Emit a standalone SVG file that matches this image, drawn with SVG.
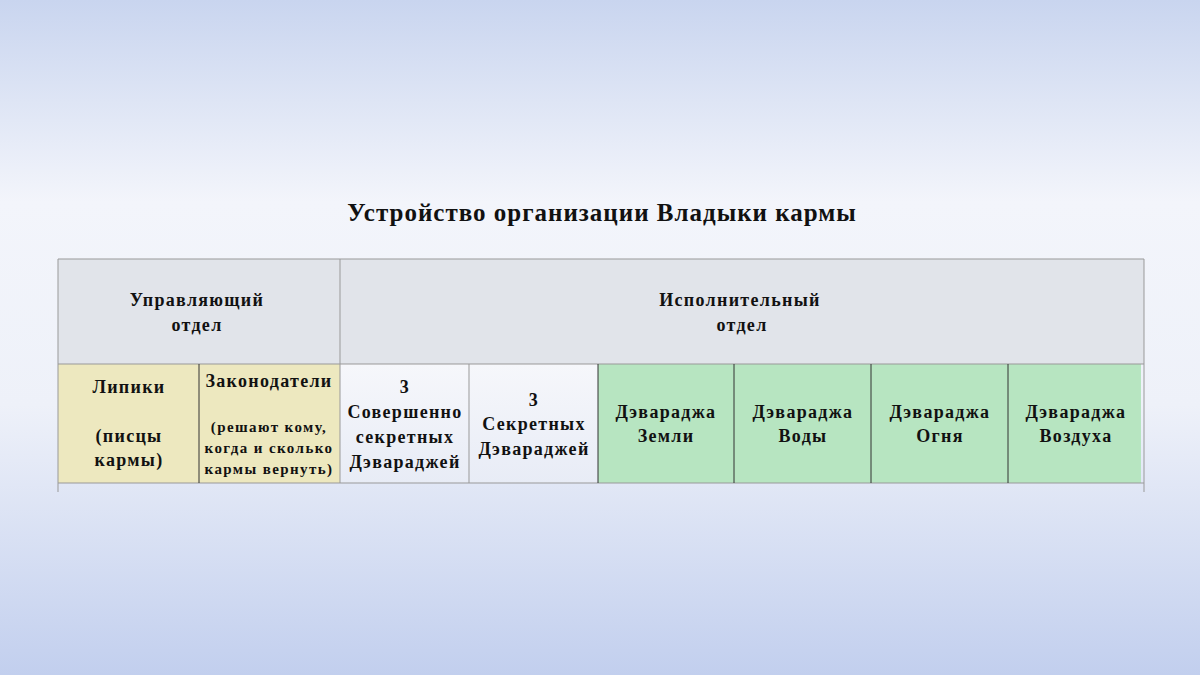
<svg xmlns="http://www.w3.org/2000/svg" width="1200" height="675" viewBox="0 0 1200 675">
<defs>
<linearGradient id="bg" x1="0" y1="0" x2="0" y2="1">
<stop offset="0" stop-color="#c9d5ef"/><stop offset="0.3" stop-color="#f3f5fb"/><stop offset="0.6" stop-color="#eef1f9"/><stop offset="1" stop-color="#c2cfee"/>
</linearGradient>
<linearGradient id="wh" x1="0" y1="0" x2="0" y2="1"><stop offset="0" stop-color="#f6f7fb"/><stop offset="1" stop-color="#e8ecf6"/></linearGradient>
<style>
text{font-family:"Liberation Serif","DejaVu Serif",serif;font-weight:bold;font-size:18px;letter-spacing:1.3px;fill:#111;text-anchor:middle}
.s{font-size:15px;letter-spacing:1.4px}
.t{font-size:25px;letter-spacing:1px}
.g{fill:#e1e4ea}.y{fill:#ede8bf}.w{fill:url(#wh)}.gr{fill:#b7e5c1}
line{stroke:#333;stroke-width:1}
.l{stroke:#999}
</style>
</defs>
<rect width="1200" height="675" fill="url(#bg)"/>
<text class="t" x="602" y="221">Устройство организации Владыки кармы</text>
<g id="hdr-upr"><rect class="g" x="58" y="259" width="282" height="105"/><text x="197" y="306">Управляющий</text><text x="197" y="331">отдел</text></g>
<g id="hdr-isp"><rect class="g" x="340" y="259" width="804" height="105"/><text x="740" y="306">Исполнительный</text><text x="742" y="331">отдел</text></g>
<g id="lipiki"><rect class="y" x="58" y="364" width="141" height="119"/><text x="129" y="393">Липики</text><text x="129" y="442">(писцы</text><text x="129" y="466">кармы)</text></g>
<g id="zakon"><rect class="y" x="199" y="364" width="141" height="119"/><text x="269" y="387">Законодатели</text><text class="s" x="269" y="432">(решают кому,</text><text class="s" x="269" y="453">когда и сколько</text><text class="s" x="269" y="474">кармы вернуть)</text></g>
<g id="sov"><rect class="w" x="340" y="364" width="129" height="119"/><text x="405" y="393">3</text><text x="405" y="418">Совершенно</text><text x="405" y="443">секретных</text><text x="405" y="468">Дэвараджей</text></g>
<g id="sek"><rect class="w" x="469" y="364" width="129" height="119"/><text x="534" y="406">3</text><text x="534" y="430">Секретных</text><text x="534" y="455">Дэвараджей</text></g>
<g id="zem"><rect class="gr" x="598" y="364" width="136" height="119"/><text x="666" y="418">Дэвараджа</text><text x="666" y="442">Земли</text></g>
<g id="vod"><rect class="gr" x="734" y="364" width="137" height="119"/><text x="803" y="418">Дэвараджа</text><text x="803" y="442">Воды</text></g>
<g id="ogn"><rect class="gr" x="871" y="364" width="137" height="119"/><text x="940" y="418">Дэвараджа</text><text x="940" y="442">Огня</text></g>
<g id="vozd"><rect class="gr" x="1008" y="364" width="133" height="119"/><text x="1076" y="418">Дэвараджа</text><text x="1076" y="442">Воздуха</text></g>
<g id="connectors">
<line class="l" x1="58" y1="259" x2="1144" y2="259"/>
<line class="l" x1="58" y1="364" x2="1144" y2="364"/>
<line class="l" x1="58" y1="483" x2="1144" y2="483"/>
<line class="l" x1="58" y1="259" x2="58" y2="492"/>
<line class="l" x1="1144" y1="259" x2="1144" y2="492"/>
<line class="l" x1="340" y1="259" x2="340" y2="483"/>
<line x1="199" y1="364" x2="199" y2="483"/>
<line class="l" x1="469" y1="364" x2="469" y2="483"/>
<line x1="598" y1="364" x2="598" y2="483"/>
<line x1="734" y1="364" x2="734" y2="483"/>
<line x1="871" y1="364" x2="871" y2="483"/>
<line x1="1008" y1="364" x2="1008" y2="483"/>
</g>
</svg>
